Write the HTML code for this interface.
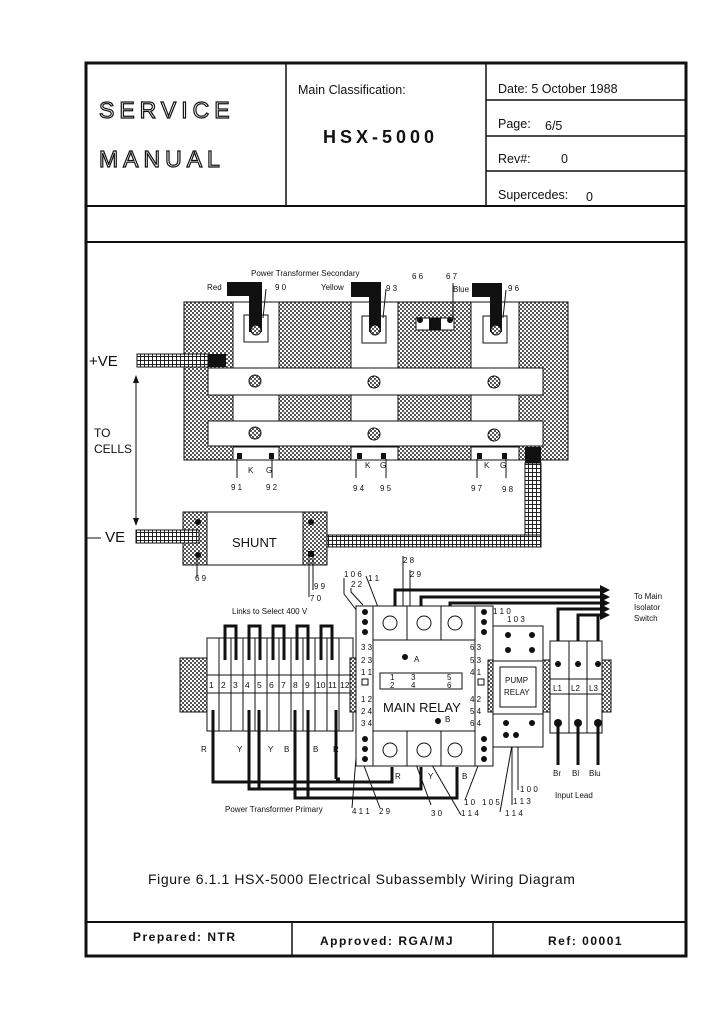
<!DOCTYPE html>
<html><head><meta charset="utf-8"><style>
html,body{margin:0;padding:0;background:#fff;}
svg{display:block;}
text{font-family:"Liberation Sans",sans-serif;fill:#111;}
text.ol{fill:#fff;stroke:#111;stroke-width:1.2;}
</style></head><body>
<svg width="724" height="1024" viewBox="0 0 724 1024" xmlns="http://www.w3.org/2000/svg">
<defs>
<pattern id="h" width="4" height="4" patternUnits="userSpaceOnUse">
<rect width="4" height="4" fill="#fff"/><rect width="2" height="2" fill="#555"/><rect x="2" y="2" width="2" height="2" fill="#555"/>
</pattern>
<pattern id="g" width="4" height="4" patternUnits="userSpaceOnUse">
<rect width="4" height="4" fill="#fff"/><path d="M0 0.5H4M0.5 0V4" stroke="#222" stroke-width="1"/>
</pattern>
</defs>
<!-- frame -->
<rect x="86" y="63" width="600" height="893" fill="none" stroke="#111" stroke-width="3"/>
<line x1="86" y1="206" x2="686" y2="206" stroke="#111" stroke-width="2"/>
<line x1="86" y1="242" x2="686" y2="242" stroke="#111" stroke-width="2"/>
<line x1="286" y1="63" x2="286" y2="206" stroke="#111" stroke-width="1.5"/>
<line x1="486" y1="63" x2="486" y2="206" stroke="#111" stroke-width="1.5"/>
<line x1="486" y1="100" x2="686" y2="100" stroke="#111" stroke-width="1.5"/>
<line x1="486" y1="136" x2="686" y2="136" stroke="#111" stroke-width="1.5"/>
<line x1="486" y1="171" x2="686" y2="171" stroke="#111" stroke-width="1.5"/>
<line x1="86" y1="922" x2="686" y2="922" stroke="#111" stroke-width="2"/>
<line x1="292" y1="922" x2="292" y2="956" stroke="#111" stroke-width="1.5"/>
<line x1="493" y1="922" x2="493" y2="956" stroke="#111" stroke-width="1.5"/>
<text class="ol" x="99" y="118" font-size="23" letter-spacing="5">SERVICE</text>
<text class="ol" x="99" y="167" font-size="23" letter-spacing="5">MANUAL</text>
<text x="298" y="94" font-size="12.5">Main Classification:</text>
<text x="323" y="143" font-size="18" font-weight="bold" letter-spacing="4">HSX-5000</text>
<text x="498" y="93" font-size="12.5">Date: 5 October 1988</text>
<text x="498" y="128" font-size="12.5">Page:</text><text x="545" y="130" font-size="12.5">6/5</text>
<text x="498" y="163" font-size="12.5">Rev#:</text><text x="561" y="163" font-size="12.5">0</text>
<text x="498" y="199" font-size="12.5">Supercedes:</text><text x="586" y="201" font-size="12.5">0</text>
<text x="148" y="884" font-size="14" letter-spacing="0.6">Figure 6.1.1 HSX-5000 Electrical Subassembly Wiring Diagram</text>
<text x="133" y="941" font-size="12" font-weight="bold" letter-spacing="1.5">Prepared: NTR</text>
<text x="320" y="945" font-size="12" font-weight="bold" letter-spacing="1.5">Approved: RGA/MJ</text>
<text x="548" y="945" font-size="12" font-weight="bold" letter-spacing="1.5">Ref: 00001</text>

<!-- top block -->
<rect x="184" y="302" width="384" height="158" fill="url(#h)" stroke="#111"/>
<rect x="233" y="302" width="46" height="158" fill="#fff" stroke="#111"/>
<rect x="351" y="302" width="47" height="158" fill="#fff" stroke="#111"/>
<rect x="471" y="302" width="48" height="158" fill="#fff" stroke="#111"/>
<rect x="244" y="315" width="24" height="27" fill="#fff" stroke="#111"/>
<rect x="362" y="316" width="24" height="27" fill="#fff" stroke="#111"/>
<rect x="483" y="316" width="24" height="27" fill="#fff" stroke="#111"/>
<path d="M227 282H262V332H249V296H227Z" fill="#111"/>
<path d="M351 282H381V332H369V297H351Z" fill="#111"/>
<path d="M472 283H502V332H490V297H472Z" fill="#111"/>
<circle cx="256" cy="330" r="5" fill="url(#h)" stroke="#111"/>
<circle cx="375" cy="330" r="5" fill="url(#h)" stroke="#111"/>
<circle cx="496" cy="330" r="5" fill="url(#h)" stroke="#111"/>
<rect x="416" y="318" width="38" height="12" fill="#fff" stroke="#111"/>
<rect x="429" y="318" width="12" height="12" fill="#111"/>
<circle cx="420" cy="320" r="3" fill="#111"/><circle cx="450" cy="320" r="3" fill="#111"/>
<rect x="208" y="368" width="335" height="27" fill="#fff" stroke="#111"/>
<rect x="208" y="421" width="335" height="25" fill="#fff" stroke="#111"/>
<g fill="url(#h)" stroke="#111">
<circle cx="255" cy="381" r="6"/><circle cx="374" cy="382" r="6"/><circle cx="494" cy="382" r="6"/>
<circle cx="255" cy="433" r="6"/><circle cx="374" cy="434" r="6"/><circle cx="494" cy="435" r="6"/></g>
<rect x="233" y="447" width="46" height="13" fill="#fff" stroke="#111"/>
<rect x="351" y="447" width="47" height="13" fill="#fff" stroke="#111"/>
<rect x="471" y="447" width="48" height="13" fill="#fff" stroke="#111"/>
<g fill="#111"><rect x="237" y="453" width="5" height="6"/><rect x="269" y="453" width="5" height="6"/>
<rect x="357" y="453" width="5" height="6"/><rect x="381" y="453" width="5" height="6"/>
<rect x="477" y="453" width="5" height="6"/><rect x="502" y="453" width="5" height="6"/></g>
<g stroke="#111" stroke-width="1"><line x1="237" y1="459" x2="237" y2="478"/><line x1="272" y1="459" x2="272" y2="478"/>
<line x1="356" y1="459" x2="356" y2="478"/><line x1="386" y1="459" x2="386" y2="478"/>
<line x1="477" y1="459" x2="477" y2="478"/><line x1="506" y1="459" x2="506" y2="478"/>
<line x1="266" y1="289" x2="263" y2="318"/><line x1="386" y1="289" x2="383" y2="318"/><line x1="506" y1="290" x2="503" y2="318"/>
<line x1="453" y1="283" x2="453" y2="318"/></g>
<g font-size="8"><text x="248" y="473">K</text><text x="266" y="473">G</text><text x="365" y="468">K</text><text x="380" y="468">G</text>
<text x="484" y="468">K</text><text x="500" y="468">G</text>
<text x="231" y="490">9 1</text><text x="266" y="490">9 2</text><text x="353" y="491">9 4</text><text x="380" y="491">9 5</text>
<text x="471" y="491">9 7</text><text x="502" y="492">9 8</text>
<text x="251" y="276">Power  Transformer  Secondary</text>
<text x="207" y="290">Red</text><text x="275" y="290">9 0</text>
<text x="321" y="290">Yellow</text><text x="386" y="291">9 3</text>
<text x="412" y="279">6 6</text><text x="446" y="279">6 7</text><text x="453" y="292">Blue</text>
<text x="508" y="291">9 6</text></g>
<!-- +VE cable -->
<rect x="137" y="354" width="71" height="13" fill="url(#g)" stroke="#111"/>
<rect x="208" y="354" width="18" height="13" fill="#111"/>
<text x="89" y="366" font-size="15">+VE</text>
<line x1="136" y1="378" x2="136" y2="522" stroke="#111"/>
<path d="M133 383L136 375L139 383Z M133 518L136 526L139 518Z" fill="#111"/>
<text x="94" y="437" font-size="12">TO</text><text x="94" y="453" font-size="12">CELLS</text>
<text x="86" y="542" font-size="15">— VE</text>
<!-- right cable -->
<rect x="525" y="447" width="16" height="16" fill="#111"/>
<rect x="525" y="463" width="16" height="84" fill="url(#g)" stroke="#111"/>
<rect x="312" y="535" width="229" height="12" fill="url(#g)" stroke="#111"/>
<!-- shunt -->
<rect x="183" y="512" width="144" height="53" fill="#fff" stroke="#111"/>
<rect x="183" y="512" width="24" height="53" fill="url(#h)" stroke="#111"/>
<rect x="303" y="512" width="24" height="53" fill="url(#h)" stroke="#111"/>
<rect x="136" y="530" width="63" height="13" fill="url(#g)" stroke="#111"/>
<circle cx="198" cy="522" r="3" fill="#111"/><circle cx="198" cy="555" r="3" fill="#111"/>
<circle cx="311" cy="522" r="3" fill="#111"/><rect x="308" y="551" width="6" height="6" fill="#111"/>
<text x="232" y="547" font-size="13">SHUNT</text>
<g stroke="#111"><line x1="197" y1="558" x2="197" y2="577"/><line x1="309" y1="558" x2="309" y2="597"/><line x1="313" y1="558" x2="313" y2="590"/></g>
<g font-size="8"><text x="195" y="581">6 9</text><text x="314" y="589">9 9</text><text x="310" y="601">7 0</text></g>

<!-- lower section -->
<g font-size="8">
<text x="344" y="577">1 0 6</text><text x="351" y="587">2 2</text><text x="368" y="581">1 1</text>
<text x="403" y="563">2 8</text><text x="410" y="577">2 9</text>
<text x="232" y="614">Links to Select 400 V</text>
<text x="493" y="614">1 1 0</text><text x="507" y="622">1 0 3</text>
<text x="634" y="599">To Main</text><text x="634" y="610">Isolator</text><text x="634" y="621">Switch</text>
<text x="201" y="752">R</text><text x="237" y="752">Y</text><text x="268" y="752">Y</text><text x="284" y="752">B</text>
<text x="313" y="752">B</text><text x="333" y="752">R</text>
<text x="395" y="779">R</text><text x="428" y="779">Y</text><text x="462" y="779">B</text>
<text x="225" y="812">Power Transformer Primary</text>
<text x="352" y="814">4 1 1</text><text x="379" y="814">2 9</text><text x="431" y="816">3 0</text><text x="461" y="816">1 1 4</text>
<text x="464" y="805">1 0</text><text x="482" y="805">1 0 5</text><text x="513" y="804">1 1 3</text><text x="505" y="816">1 1 4</text><text x="520" y="792">1 0 0</text>
<text x="553" y="776">Br</text><text x="572" y="776">Bl</text><text x="589" y="776">Blu</text>
<text x="555" y="798">Input Lead</text>
</g>
<g stroke="#111" stroke-width="1" fill="none">
<line x1="403" y1="556" x2="403" y2="660"/><line x1="410" y1="570" x2="410" y2="655"/>
<path d="M344 578V594L364 620"/><path d="M351 588V592L363 605"/><line x1="366" y1="576" x2="383" y2="620"/>
<line x1="493" y1="608" x2="482" y2="621"/>
<path d="M403 729L431 805M411 729L461 815M486 745L465 800M512 745L500 812M358 733L352 808M358 750L380 808M518 745L518 790M512 745L512 805"/>
</g>
<!-- terminal strip -->
<rect x="180" y="658" width="27" height="54" fill="url(#h)" stroke="#111"/>
<rect x="207" y="638" width="146" height="93" fill="#fff" stroke="#111"/>
<rect x="350" y="658" width="7" height="54" fill="url(#h)" stroke="#111"/>
<line x1="207" y1="675" x2="353" y2="675" stroke="#111"/><line x1="207" y1="693" x2="353" y2="693" stroke="#111"/>
<g stroke="#111"><line x1="219" y1="638" x2="219" y2="731"/><line x1="231" y1="638" x2="231" y2="731"/><line x1="243" y1="638" x2="243" y2="731"/><line x1="255" y1="638" x2="255" y2="731"/><line x1="267" y1="638" x2="267" y2="731"/><line x1="279" y1="638" x2="279" y2="731"/><line x1="291" y1="638" x2="291" y2="731"/><line x1="303" y1="638" x2="303" y2="731"/><line x1="315" y1="638" x2="315" y2="731"/><line x1="327" y1="638" x2="327" y2="731"/><line x1="339" y1="638" x2="339" y2="731"/></g>
<g font-size="8.5"><text x="209" y="688">1</text><text x="221" y="688">2</text><text x="233" y="688">3</text><text x="245" y="688">4</text><text x="257" y="688">5</text><text x="269" y="688">6</text><text x="281" y="688">7</text><text x="293" y="688">8</text><text x="305" y="688">9</text><text x="316" y="688">10</text><text x="328" y="688">11</text><text x="340" y="688">12</text></g>
<g stroke="#111" stroke-width="3" fill="none">
<path d="M225 660V626H236V660M249 660V626H260V660M273 660V626H284V660M297 660V626H308V660M321 660V626H332V660"/>
<path d="M213 710V782H392V767M249 710V789H421V767M259 710V770M336 710V779M295 710V798H457V767M308 710V790"/>
<path d="M259 770V789M308 790V798M336 779H340"/>
<path d="M395 617V590H600M421 617V597H600M450 617V603H600M558 665V609H600M578 665V615H600M598 665V615"/>
</g>
<path d="M600 585L610 590L600 595ZM600 592L610 597L600 602ZM600 598L610 603L600 608ZM600 604L610 609L600 614ZM600 610L610 615L600 620Z" fill="#111"/>
<!-- main relay -->
<rect x="356" y="606" width="137" height="160" fill="#fff" stroke="#111"/>
<rect x="373" y="640" width="102" height="91" fill="#fff" stroke="#111"/>
<g stroke="#111"><line x1="373" y1="606" x2="373" y2="766"/><line x1="475" y1="606" x2="475" y2="766"/>
<line x1="407" y1="606" x2="407" y2="640"/><line x1="441" y1="606" x2="441" y2="640"/>
<line x1="407" y1="731" x2="407" y2="766"/><line x1="441" y1="731" x2="441" y2="766"/></g>
<g fill="#fff" stroke="#111"><circle cx="390" cy="623" r="7"/><circle cx="424" cy="623" r="7"/><circle cx="455" cy="623" r="7"/>
<circle cx="390" cy="750" r="7"/><circle cx="424" cy="750" r="7"/><circle cx="455" cy="750" r="7"/></g>
<g fill="#111"><circle cx="365" cy="612" r="3"/><circle cx="365" cy="622" r="3"/><circle cx="365" cy="632" r="3"/>
<circle cx="484" cy="612" r="3"/><circle cx="484" cy="622" r="3"/><circle cx="484" cy="632" r="3"/>
<circle cx="365" cy="739" r="3"/><circle cx="365" cy="749" r="3"/><circle cx="365" cy="759" r="3"/>
<circle cx="484" cy="739" r="3"/><circle cx="484" cy="749" r="3"/><circle cx="484" cy="759" r="3"/>
<circle cx="405" cy="657" r="3"/><circle cx="438" cy="721" r="3"/></g>
<rect x="380" y="673" width="82" height="16" fill="#fff" stroke="#111"/>
<g font-size="8"><text x="361" y="650">3 3</text><text x="361" y="663">2 3</text><text x="361" y="675">1 1</text>
<text x="361" y="702">1 2</text><text x="361" y="714">2 4</text><text x="361" y="726">3 4</text>
<text x="470" y="650">6 3</text><text x="470" y="663">5 3</text><text x="470" y="675">4 1</text>
<text x="470" y="702">4 2</text><text x="470" y="714">5 4</text><text x="470" y="726">6 4</text>
<text x="414" y="662">A</text><text x="445" y="722">B</text>
<text x="390" y="680">1</text><text x="390" y="688">2</text><text x="411" y="680">3</text><text x="411" y="688">4</text><text x="447" y="680">5</text><text x="447" y="688">6</text></g>
<rect x="362" y="679" width="6" height="6" fill="none" stroke="#111"/><rect x="478" y="679" width="6" height="6" fill="none" stroke="#111"/>
<text x="383" y="712" font-size="13">MAIN RELAY</text>
<!-- pump relay -->
<rect x="488" y="660" width="6" height="52" fill="url(#h)" stroke="#111"/>
<rect x="493" y="626" width="50" height="121" fill="#fff" stroke="#111"/>
<line x1="493" y1="661" x2="543" y2="661" stroke="#111"/><line x1="493" y1="714" x2="543" y2="714" stroke="#111"/>
<rect x="500" y="667" width="36" height="40" fill="#fff" stroke="#111"/>
<text x="505" y="683" font-size="8">PUMP</text><text x="504" y="695" font-size="8">RELAY</text>
<g fill="#111"><circle cx="508" cy="635" r="3"/><circle cx="532" cy="635" r="3"/><circle cx="508" cy="650" r="3"/><circle cx="532" cy="650" r="3"/>
<circle cx="506" cy="723" r="3"/><circle cx="532" cy="723" r="3"/><circle cx="506" cy="735" r="3"/><circle cx="516" cy="735" r="3"/></g>
<!-- switch -->
<rect x="543" y="660" width="7" height="52" fill="url(#h)" stroke="#111"/>
<rect x="550" y="641" width="52" height="92" fill="#fff" stroke="#111"/>
<rect x="602" y="660" width="9" height="52" fill="url(#h)" stroke="#111"/>
<g stroke="#111"><line x1="569" y1="641" x2="569" y2="733"/><line x1="587" y1="641" x2="587" y2="733"/>
<line x1="550" y1="679" x2="602" y2="679"/><line x1="550" y1="694" x2="602" y2="694"/></g>
<g font-size="8"><text x="553" y="691">L1</text><text x="571" y="691">L2</text><text x="589" y="691">L3</text></g>
<g fill="#111"><circle cx="558" cy="664" r="3"/><circle cx="578" cy="664" r="3"/><circle cx="598" cy="664" r="3"/>
<circle cx="558" cy="723" r="4"/><circle cx="578" cy="723" r="4"/><circle cx="598" cy="723" r="4"/></g>
<g stroke="#111" stroke-width="3"><line x1="558" y1="723" x2="558" y2="765"/><line x1="578" y1="723" x2="578" y2="765"/><line x1="598" y1="723" x2="598" y2="765"/></g>
</svg>
</body></html>
